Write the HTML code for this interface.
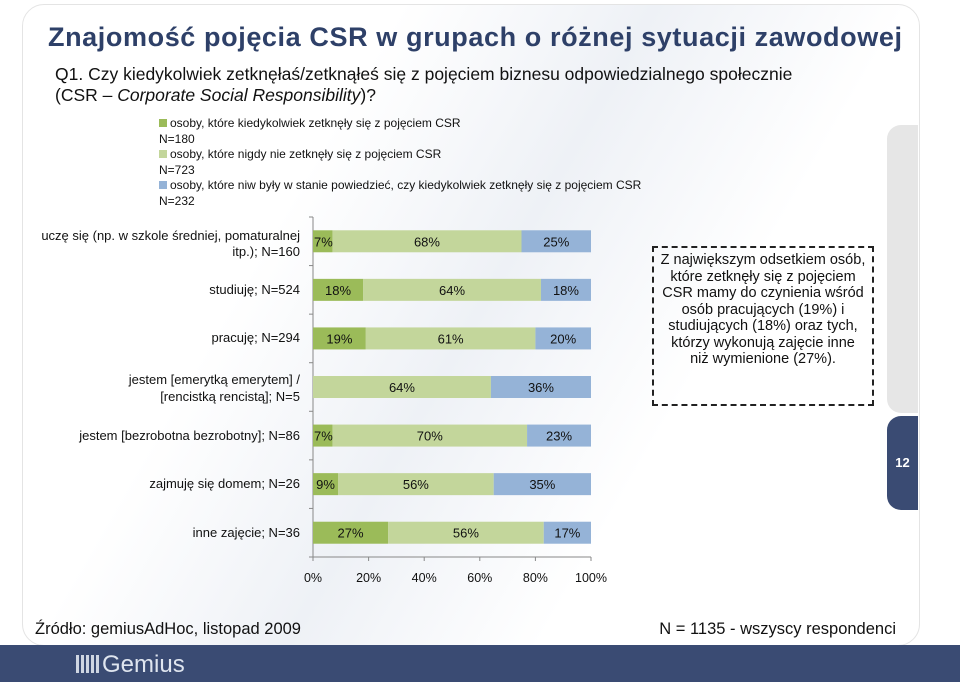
<!DOCTYPE html>
<html><head><meta charset="utf-8"><style>
body{margin:0;width:960px;height:682px;overflow:hidden;background:#fff;font-family:"Liberation Sans",sans-serif;position:relative}
.abs{position:absolute}
.lbl{position:absolute;font-size:13px;color:#111;text-align:right;white-space:nowrap;font-family:"Liberation Sans Narrow","Liberation Sans",sans-serif}
</style></head><body>
<div class="abs" style="left:22px;top:4px;width:896px;height:640px;border:1px solid #e4e4e4;border-radius:22px;background:linear-gradient(120deg,#fff 30%,#eef1f6 50%,#fff 70%)"></div>
<div class="abs" style="left:887px;top:125px;width:31px;height:288px;background:#e6e6e6;border-radius:14px 0 0 14px"></div>
<div class="abs" style="left:887px;top:416px;width:31px;height:94px;background:#3a4b73;border-radius:14px 0 0 14px;color:#fff;font-weight:bold;font-size:13px;line-height:94px;text-align:center">12</div>
<div class="abs" style="left:48px;top:22px;font-size:27px;letter-spacing:0.6px;font-weight:bold;color:#2e4068;white-space:nowrap">Znajomość pojęcia CSR w grupach o różnej sytuacji zawodowej</div>
<div class="abs" style="left:55px;top:64px;font-size:17.5px;color:#111;line-height:21px;white-space:nowrap">Q1. Czy kiedykolwiek zetknęłaś/zetknąłeś się z pojęciem biznesu odpowiedzialnego społecznie<br>(CSR – <i>Corporate Social Responsibility</i>)?</div>
<div class="abs" style="left:159px;top:116px;font-size:12px;color:#111;line-height:15.5px;font-family:'Liberation Sans Narrow','Liberation Sans',sans-serif">
<div><span style="display:inline-block;width:8px;height:8px;background:#9bbb59;margin-right:3px"></span>osoby, które kiedykolwiek zetknęły się z pojęciem CSR<br>N=180</div>
<div><span style="display:inline-block;width:8px;height:8px;background:#c3d69b;margin-right:3px"></span>osoby, które nigdy nie zetknęły się z pojęciem CSR<br>N=723</div>
<div><span style="display:inline-block;width:8px;height:8px;background:#95b3d7;margin-right:3px"></span>osoby, które niw były w stanie powiedzieć, czy kiedykolwiek zetknęły się z pojęciem CSR<br>N=232</div>
</div>
<div class="lbl" style="right:660px;top:228px;text-align:right;line-height:16px">uczę się (np. w szkole średniej, pomaturalnej<br>itp.); N=160</div>
<div class="lbl" style="right:660px;top:282px">studiuję; N=524</div>
<div class="lbl" style="right:660px;top:330px">pracuję; N=294</div>
<div class="lbl" style="right:660px;top:371px;line-height:17px">jestem [emerytką emerytem] /<br>[rencistką rencistą]; N=5</div>
<div class="lbl" style="right:660px;top:428px">jestem [bezrobotna bezrobotny]; N=86</div>
<div class="lbl" style="right:660px;top:476px">zajmuję się domem; N=26</div>
<div class="lbl" style="right:660px;top:525px">inne zajęcie; N=36</div>
<svg class="abs" style="left:0;top:0" width="960" height="682" id="chart"></svg>
<div class="abs" style="left:652px;top:246px;width:222px;height:160px;border:2px dashed #222;font-size:14.5px;line-height:16.5px;text-align:center;color:#111;padding:4px 6px 0;box-sizing:border-box">Z największym odsetkiem osób, które zetknęły się z pojęciem CSR mamy do czynienia wśród osób pracujących (19%) i studiujących (18%) oraz tych, którzy wykonują zajęcie inne niż wymienione (27%).</div>
<div class="abs" style="left:35px;top:620px;font-size:16.5px;color:#111">Źródło: gemiusAdHoc, listopad 2009</div>
<div class="abs" style="right:64px;top:620px;font-size:16.5px;color:#111">N = 1135 - wszyscy respondenci</div>
<div class="abs" style="left:0;top:645px;width:960px;height:37px;background:#3a4b73"></div>
<div class="abs" style="left:76px;top:651px;color:#dfe5ef;font-size:24px;white-space:nowrap"><span style="display:inline-block;width:24px;height:18px;background:repeating-linear-gradient(90deg,#cfd6e2 0 3px,transparent 3px 5px),#3a4b73;vertical-align:-1px;margin-right:2px"></span>Gemius</div>
<script>
const categories=["uczę się","studiuję","pracuję","emeryt/rencista","bezrobotny","zajmuję się domem","inne zajęcie"];
const seriesYes=[7,18,19,0,7,9,27];
const seriesNo=[68,64,61,64,70,56,56];
const seriesDK=[25,18,20,36,23,35,17];
const ticks=[0,20,40,60,80,100];
const colors=["#9bbb59","#c3d69b","#95b3d7"];
const svg=document.getElementById('chart');const NS="http://www.w3.org/2000/svg";
const x0=313,x1=591,yTop=217,yBot=557;
const xs=v=>x0+(x1-x0)*v/100;
const band=(yBot-yTop)/categories.length;
const yc=i=>yTop+band*(i+0.5);
function mk(t,a){const e=document.createElementNS(NS,t);for(const k in a)e.setAttribute(k,a[k]);svg.appendChild(e);return e;}
let ax=mk('line',{x1:x0,y1:yTop,x2:x0,y2:yBot,stroke:'#888'});

let bx=mk('line',{x1:x0,y1:yBot,x2:x1,y2:yBot,stroke:'#888'});

for(let i=0;i<=categories.length;i++){mk('line',{x1:x0-4,y1:yTop+band*i,x2:x0,y2:yTop+band*i,stroke:'#888'});}
ticks.forEach(t=>{mk('line',{x1:xs(t),y1:yBot,x2:xs(t),y2:yBot+4,stroke:'#888'});
const tx=mk('text',{x:xs(t),y:yBot+25,'text-anchor':'middle','font-size':12.5,'font-family':'Liberation Sans, sans-serif',fill:'#111'});tx.textContent=t+'%';
});
categories.forEach((c,i)=>{const vals=[seriesYes[i],seriesNo[i],seriesDK[i]];let acc=0;
vals.forEach((v,j)=>{const r=mk('rect',{x:xs(acc),y:yc(i)-11,width:xs(acc+v)-xs(acc),height:22,fill:colors[j]});

if(v>0){const t=mk('text',{x:(xs(acc)+xs(acc+v))/2,y:yc(i)+5,'text-anchor':'middle','font-size':13,'font-family':'Liberation Sans, sans-serif',fill:'#111'});t.textContent=v+'%';
if(v<8){t.setAttribute('x',xs(acc)+1);t.setAttribute('text-anchor','start');}
}
acc+=v;});});
</script>
</body></html>
